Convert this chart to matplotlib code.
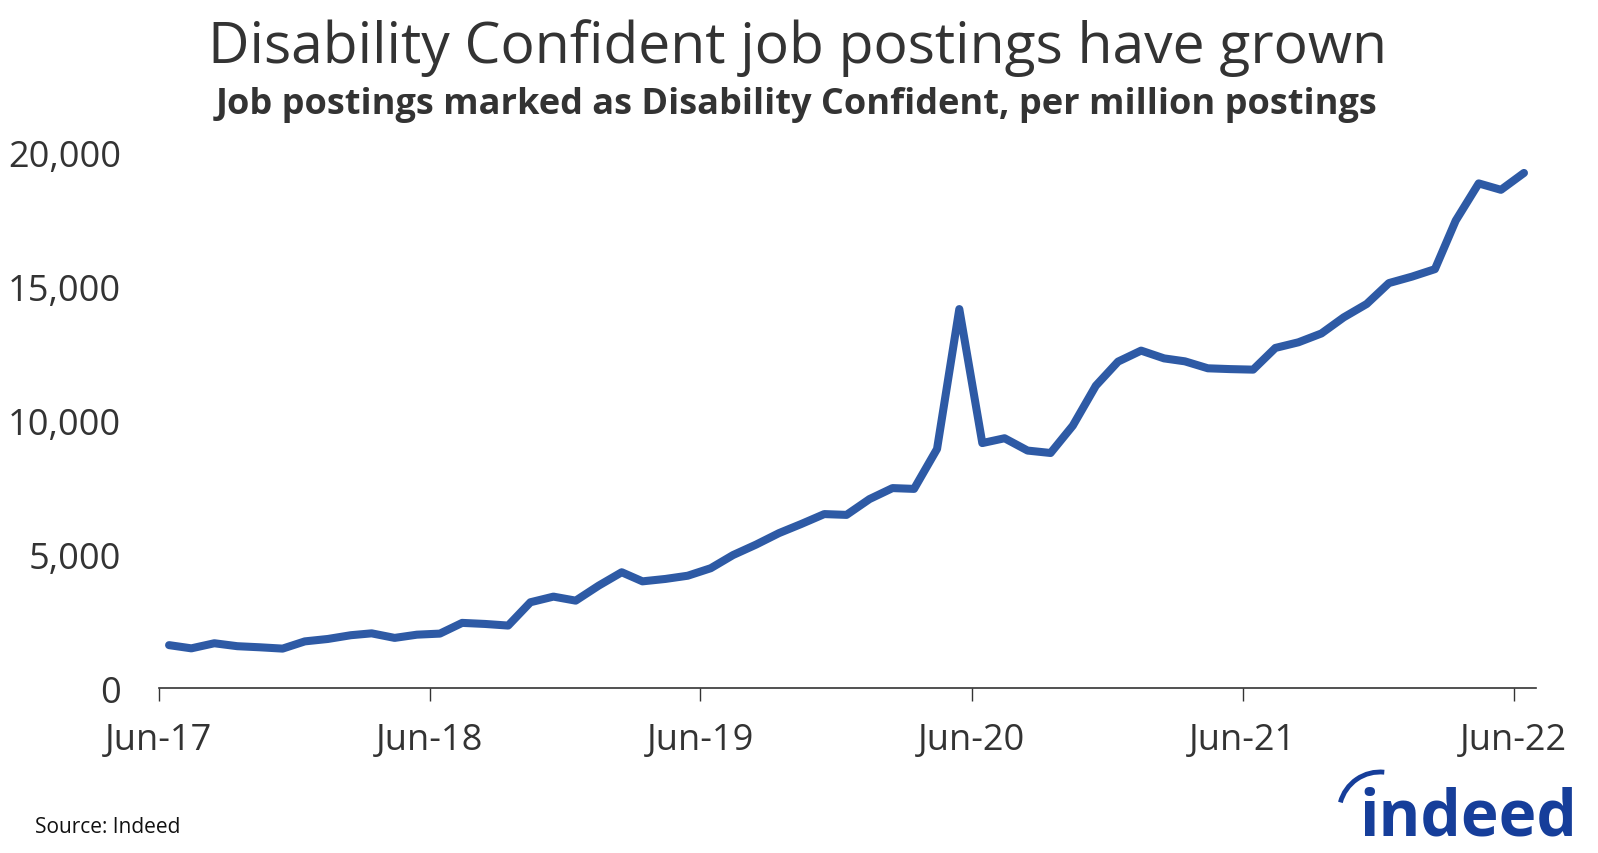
import matplotlib
matplotlib.use('Agg')
import matplotlib.pyplot as plt
import matplotlib.dates as mdates
from matplotlib.patches import Arc
from matplotlib.ticker import FuncFormatter
import pandas as pd

# --- Data (job postings marked as Disability Confident, per million) ---
MONTHS = pd.date_range('2017-06-01', '2022-06-01', freq='MS')
VALUES = [
    1600, 1480, 1670, 1560, 1520, 1470, 1740, 1830, 1970, 2040, 1870, 1990,
    2030, 2430, 2390, 2330, 3200, 3410, 3260, 3820, 4320, 3980, 4070, 4190,
    4470, 4960, 5350, 5780, 6120, 6490, 6460, 7050, 7460, 7430, 8920, 14140,
    9140, 9320, 8860, 8770, 9790, 11280, 12180, 12590, 12300, 12190, 11930, 11900,
    11880, 12690, 12900, 13230, 13830, 14330, 15110, 15350, 15630, 17440, 18830, 18590,
    19220,
]
Y_TICKS = [0, 5000, 10000, 15000, 20000]
X_TICKS = pd.date_range('2017-06-01', '2022-06-01', freq='12MS')

TITLE = 'Disability Confident job postings have grown'
SUBTITLE = 'Job postings marked as Disability Confident, per million postings'

LINE_COLOR = '#2E5AA5'
TEXT_COLOR = '#333333'
LOGO_COLOR = '#163E9A'

plt.rcParams['font.family'] = ['Open Sans', 'DejaVu Sans']

fig = plt.figure(figsize=(15.98, 8.54), dpi=100)
ax = fig.add_axes([0.0993, 0.1932, 0.8618, 0.6276])

# mid-month positions
dates = MONTHS + pd.Timedelta(days=14)
ax.plot(dates, VALUES, color=LINE_COLOR, linewidth=5.8, solid_capstyle='round',
        solid_joinstyle='round')

ax.set_ylim(0, 20000)
ax.set_xlim(pd.Timestamp('2017-06-01'), pd.Timestamp('2022-07-01'))
ax.set_yticks(Y_TICKS)
ax.yaxis.set_major_formatter(FuncFormatter(lambda v, p: f'{int(v):,}'))
ax.set_xticks(X_TICKS)
ax.xaxis.set_major_formatter(mdates.DateFormatter('%b-%y'))

for side in ['top', 'right', 'left']:
    ax.spines[side].set_visible(False)
ax.spines['bottom'].set_color(TEXT_COLOR)
ax.spines['bottom'].set_linewidth(1.2)

ax.tick_params(axis='y', length=0, pad=27, labelsize=26, labelcolor=TEXT_COLOR)
ax.tick_params(axis='x', length=9.5, width=1.0, color=TEXT_COLOR, pad=15,
               labelsize=26, labelcolor=TEXT_COLOR)

fig.text(0.499, 0.926, TITLE, ha='center', va='baseline', fontsize=41, color=TEXT_COLOR)
fig.text(0.4985, 0.8665, SUBTITLE, ha='center', va='baseline', fontsize=26,
         fontweight='bold', color=TEXT_COLOR)
fig.text(0.022, 0.031, 'Source: Indeed', ha='left', va='center', fontsize=15,
         color='#111111')

# --- Indeed logo (text + swoosh) ---
fig.text(0.987, 0.022, 'indeed', ha='right', va='baseline', fontsize=46,
         fontweight='bold', color=LOGO_COLOR)
swoosh = Arc((1380 / 100, 40 / 100), 0.82, 0.82, theta1=84, theta2=165,
             transform=fig.dpi_scale_trans, color=LOGO_COLOR, linewidth=3.5)
fig.add_artist(swoosh)

fig.savefig('out.png', dpi=100)
